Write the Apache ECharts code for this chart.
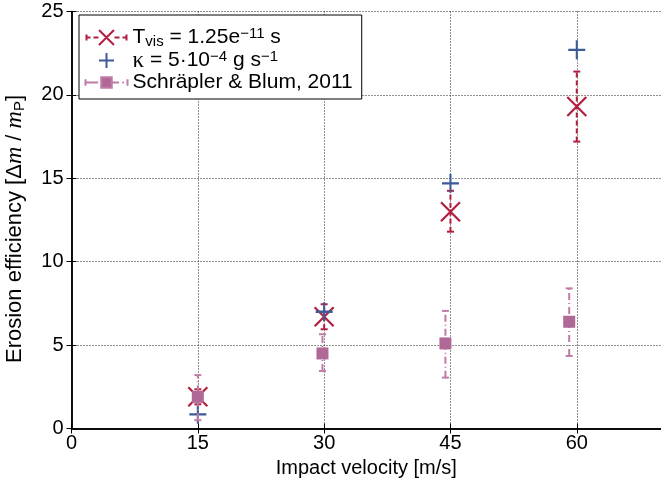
<!DOCTYPE html>
<html><head><meta charset="utf-8">
<script src="https://cdn.jsdelivr.net/npm/echarts@6/dist/echarts.min.js"></script>
<style>html,body{margin:0;padding:0;background:#fff}#c{width:661px;height:479px}</style>
</head><body><div id="c"></div>
<script>
// ---- data ----
const velocity = [15, 30, 45, 60];
const tvisY  = [1.9, 6.7, 13.0, 19.3];
const tvisLo = [1.45, 5.95, 11.8, 17.2];
const tvisHi = [2.35, 7.45, 14.25, 21.4];
const kappaY = [0.85, 7.0, 14.7, 22.7];
const sbX  = [15, 29.8, 44.4, 59.1];
const sbY  = [1.9, 4.5, 5.1, 6.4];
const sbLo = [0.5, 3.45, 3.05, 4.35];
const sbHi = [3.2, 5.65, 7.05, 8.4];
const xTicks = [0, 15, 30, 45, 60];
const yTicks = [0, 5, 10, 15, 20, 25];

const RED = '#b21f3e', BLUE = '#3d5b98', PINK = '#b06896', PINK_ERR = '#c07ca6';
const FONT = 'Liberation Sans';

function errRender(color, dash) {
  return function (params, api) {
    const x = api.value(0), lo = api.value(1), hi = api.value(2);
    const a = api.coord([x, lo]), b = api.coord([x, hi]);
    const hw = 3.5;
    const st = { stroke: color, lineWidth: 2 };
    return { type: 'group', children: [
      { type: 'line', shape: { x1: a[0], y1: a[1], x2: b[0], y2: b[1] }, style: Object.assign({ lineDash: dash }, st) },
      { type: 'line', shape: { x1: a[0] - hw, y1: a[1], x2: a[0] + hw, y2: a[1] }, style: st },
      { type: 'line', shape: { x1: b[0] - hw, y1: b[1], x2: b[0] + hw, y2: b[1] }, style: st }
    ]};
  };
}

const chart = echarts.init(document.getElementById('c'), null, { renderer: 'canvas' });
const gridLine = { show: true, lineStyle: { color: '#222', width: 1, type: [1, 2] } };
const axLine = { show: true, lineStyle: { color: '#000', width: 1.5 } };

const legendText = {
  tvis: '{a|T}{s|vis}{a| = 1.25e}{p|−11}{a| s}',
  kappa: '{k|κ}{a| = 5·10}{p|−4}{a| g s}{p|−1}',
  sb: '{a|Schräpler & Blum, 2011}'
};

chart.setOption({
  animation: false,
  backgroundColor: '#fff',
  grid: { left: 71.5, right: 0, top: 11.5, bottom: 50.5, containLabel: false, outerBoundsMode: 'none' },
  xAxis: [{
    type: 'value', min: 0, max: 70, interval: 15,
    name: 'Impact velocity [m/s]', nameLocation: 'middle', nameGap: 23,
    nameTextStyle: { fontFamily: FONT, fontSize: 20, color: '#000' },
    axisLine: axLine,
    axisTick: { show: true, inside: true, length: 5, lineStyle: { color: '#000' } },
    axisLabel: { fontFamily: FONT, fontSize: 20, color: '#000', margin: 5, showMaxLabel: false,
      formatter: v => xTicks.indexOf(v) >= 0 ? String(v) : '' },
    splitLine: gridLine
  }, {
    type: 'value', min: 0, max: 70, interval: 15, position: 'top',
    axisLine: axLine,
    axisTick: { show: true, inside: true, length: 5, lineStyle: { color: '#000' } },
    axisLabel: { show: false }, splitLine: { show: false }
  }],
  yAxis: [{
    type: 'value', min: 0, max: 25, interval: 5,
    name: '{n|Erosion efficiency [Δ}{i|m}{n| / }{i|m}{sb|P}{e|]}',
    nameLocation: 'middle', nameGap: 44, nameRotate: 90,
    nameTextStyle: { rich: {
      n: { fontFamily: FONT, fontSize: 22, color: '#000', lineHeight: 26 },
      e: { fontFamily: FONT, fontSize: 22, color: '#000', lineHeight: 26, padding: [0, 18, 0, 0] },
      i: { fontFamily: 'Liberation Serif', fontStyle: 'italic', fontSize: 24, color: '#000', lineHeight: 26 },
      sb: { fontFamily: FONT, fontSize: 15, color: '#000', lineHeight: 15, verticalAlign: 'bottom' }
    } },
    axisLine: axLine,
    axisTick: { show: true, inside: true, length: 5, lineStyle: { color: '#000' } },
    axisLabel: { fontFamily: FONT, fontSize: 20, color: '#000', margin: 8,
      formatter: v => yTicks.indexOf(v) >= 0 ? String(v) : '' },
    splitLine: gridLine
  }, {
    type: 'value', min: 0, max: 25, interval: 5, position: 'right',
    axisLine: axLine,
    axisTick: { show: true, inside: true, length: 5, lineStyle: { color: '#000' } },
    axisLabel: { show: false }, splitLine: { show: false }
  }],
  legend: {
    orient: 'vertical', left: 79, top: 15,
    backgroundColor: '#fff', borderColor: '#000', borderWidth: 1,
    padding: [11, 9, 6, 5], itemGap: 0,
    itemWidth: 42, itemHeight: 15,
    formatter: name => legendText[name],
    textStyle: { fontFamily: FONT, fontSize: 21, color: '#000', rich: {
      a: { fontFamily: FONT, fontSize: 21, color: '#000', lineHeight: 23 },
      k: { fontFamily: 'Liberation Serif', fontSize: 23, color: '#000', lineHeight: 23 },
      s: { fontFamily: FONT, fontSize: 15, color: '#000', lineHeight: 15, verticalAlign: 'bottom' },
      p: { fontFamily: FONT, fontSize: 15, color: '#000', lineHeight: 15, verticalAlign: 'top' }
    } },
    data: [
      { name: 'tvis', icon: 'path://M1,4.5L1,10.5M1,7.5L5,7.5M8,7.5L13,7.5M13.5,0L28.5,15M28.5,0L13.5,15M29,7.5L34,7.5M37,7.5L41,7.5M41,4.5L41,10.5',
        itemStyle: { color: 'none', borderColor: RED, borderWidth: 2 } },
      { name: 'kappa', icon: 'path://M0,8L16,8M8,0L8,16',
        itemStyle: { color: 'none', borderColor: BLUE, borderWidth: 2 } },
      { name: 'sb', icon: 'path://M1,2L1,8M1,5L13,5M16,0L26,0L26,10L16,10ZM26,5L33,5M36,5L37.5,5M41,2L41,8',
        itemStyle: { color: PINK, borderColor: PINK_ERR, borderWidth: 2 } }
    ]
  },
  series: [
    { name: 'tvis', type: 'custom', renderItem: errRender(RED, [5, 3]), z: 2,
      data: velocity.map((v, i) => [v, tvisLo[i], tvisHi[i]]), encode: { x: 0, y: [1, 2] } },
    { name: 'tvis', type: 'scatter', symbol: 'path://M0,0L10,10M10,0L0,10', symbolSize: 19, z: 3,
      itemStyle: { color: 'none', borderColor: RED, borderWidth: 2.2, opacity: 1 },
      data: velocity.map((v, i) => [v, tvisY[i]]) },
    { name: 'kappa', type: 'scatter', symbol: 'path://M0,5L10,5M5,0L5,10', symbolSize: [17, 19], z: 4,
      itemStyle: { color: 'none', borderColor: BLUE, borderWidth: 2.2, opacity: 1 },
      data: velocity.map((v, i) => [v, kappaY[i]]) },
    { name: 'sb', type: 'custom', renderItem: errRender(PINK_ERR, [7, 3, 1, 3]), z: 5,
      data: sbX.map((v, i) => [v, sbLo[i], sbHi[i]]), encode: { x: 0, y: [1, 2] } },
    { name: 'sb', type: 'scatter', symbol: 'rect', symbolSize: 12, z: 6,
      itemStyle: { color: PINK, opacity: 1 },
      data: sbX.map((v, i) => [v, sbY[i]]) }
  ]
});
</script></body></html>
